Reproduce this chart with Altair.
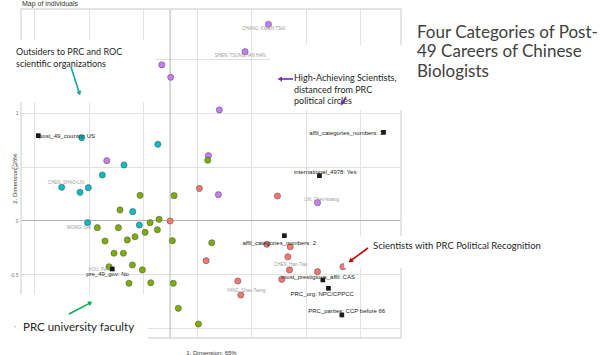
import math
import altair as alt
import pandas as pd

# ---------------- data ----------------
groups = ["Outsiders", "High-Achieving", "University faculty", "Political Recognition"]
group_colors = ["#00BFC4", "#C77CFF", "#7CAE00", "#F8766D"]

purple_x = [-0.076, 0.006, 0.906, 0.691, 0.454, -0.583, 0.353, 0.445, 1.358]
purple_y = [1.447, 1.332, 1.825, 1.570, 1.028, 0.556, 0.603, 0.240, 0.166]

teal_x = [-0.814, -0.113, -0.424, -0.624, -0.998, -0.829, -0.753, -0.344, -0.759, -0.283]
teal_y = [0.770, 0.709, 0.516, 0.423, 0.309, 0.262, 0.305, 0.082, -0.020, -0.042]

green_x = [-0.276, 0.037, 0.347, -0.461, -0.670, -0.476, -0.184, -0.101, -0.117, -0.230,
           -0.323, -0.394, -0.599, 0.021, -0.516, -0.430, -0.347, -0.562, -0.255, -0.378,
           -0.178, 0.030, 0.076, 0.261, 0.384]
green_y = [0.234, 0.231, 0.560, 0.098, -0.067, -0.067, -0.020, 0.011, -0.086, -0.110,
           -0.151, -0.181, -0.191, -0.188, -0.305, -0.305, -0.414, -0.430, -0.460, -0.584,
           -0.579, -0.584, -0.817, -0.963, -0.207]

red_x = [0.270, 0.000, 0.989, 0.891, 1.106, 0.332, 1.085, 1.100, 1.358, 1.592, 0.624, 1.029, 0.652]
red_y = [0.298, -0.005, 0.228, -0.221, -0.244, -0.374, -0.337, -0.460, -0.476, -0.430, -0.563, -0.547, -0.693]

ind_names = ["CHANG, KWEN TSAI", "SHEN, TSUNGHAN HAN", "CHEN, SHAO-LIN", "WONG, SAI",
             "KOU, Pei-lin", "LIN, Chen-kwang", "CHEN, Han-Tiao", "YANG, Shao-Tseng"]
name_x = [0.862, 0.645, -0.959, -0.839, -0.636, 1.396, 1.111, 0.700]
name_y = [1.777, 1.530, 0.344, -0.070, -0.460, 0.191, -0.414, -0.656]

var_labels = ["post_49_country: US", "affil_categories_numbers: 3", "international_4978: Yes",
              "affil_categories_numbers: 2", "most_prestigious_affil: CAS", "PRC_org: NPC/CPPCC",
              "PRC_parties: CCP before 66", "pre_49_gov: No"]
var_x = [-1.214, 1.966, 1.376, 1.053, 1.407, 1.459, 1.582, -0.532]
var_y = [0.789, 0.820, 0.417, -0.141, -0.553, -0.631, -0.879, -0.451]
var_label_x = [-0.949, 1.622, 1.429, 1.005, 1.364, 1.401, 1.627, -0.576]
var_label_y = [0.786, 0.814, 0.451, -0.209, -0.526, -0.684, -0.842, -0.502]

x_ticks = [-1.25, -1.0, -0.75, -0.5, -0.25, 0.0, 0.25, 0.5, 0.75, 1.0, 1.25, 1.5, 1.75, 2.0]
y_ticks = [-1.0, -0.75, -0.5, -0.25, 0.0, 0.25, 0.5, 0.75, 1.0, 1.25, 1.5, 1.75]

# ---------------- tables ----------------
rows = []
order = 0
for g, xs_, ys_ in [("High-Achieving", purple_x, purple_y),
                    ("Outsiders", teal_x, teal_y),
                    ("University faculty", green_x, green_y),
                    ("Political Recognition", red_x, red_y)]:
    for a, b in zip(xs_, ys_):
        rows.append({"x": a, "y": b, "group": g, "order": order})
        order += 1
ind = pd.DataFrame(rows)
names = pd.DataFrame({"x": name_x, "y": name_y, "label": ind_names})
var_pts = pd.DataFrame({"x": var_x, "y": var_y, "label": var_labels})
var_txt = pd.DataFrame({"x": var_label_x, "y": var_label_y, "label": var_labels})

# ---------------- layout ----------------
W, H = 380, 329
OX, OY = 21, 9
XS = alt.Scale(domain=[-1.373, 2.127], nice=False, zero=False)
YS = alt.Scale(domain=[-1.093, 1.967], nice=False, zero=False)
GG = "Liberation Sans"
PPT = "Lato"
ONE = alt.InlineData(values=[{}])
x_label_expr = "abs(datum.value % 0.5) < 0.001 ? toString(datum.value) : ''"
# labels above 1 and below -0.5 are hidden under the slide's text boxes
y_label_expr = ("abs(datum.value % 0.5) < 0.001 && datum.value <= 1 && datum.value >= -0.5"
                " ? toString(datum.value) : ''")

x_enc = alt.X("x:Q", scale=XS, axis=alt.Axis(
    values=x_ticks, labelExpr=x_label_expr, title="1. Dimension: 65%",
    titleY=14, titleBaseline="middle", titleFontSize=6, titleFontWeight="normal",
    titleColor="#333", titleFont=GG, labelPadding=5))
y_enc = alt.Y("y:Q", scale=YS, axis=alt.Axis(
    values=y_ticks, labelExpr=y_label_expr, title="2. Dimension: 26%",
    titleX=-7, titleY=169, titleBaseline="middle", titleFontSize=6, titleFontWeight="normal",
    titleColor="#333", titleFont=GG, labelPadding=3))

zero_v = alt.Chart(alt.InlineData(values=[{"x": 0}])).mark_rule(
    color="#B3B3B3", strokeWidth=1).encode(x=alt.X("x:Q", scale=XS))
zero_h = alt.Chart(alt.InlineData(values=[{"y": 0}])).mark_rule(
    color="#B3B3B3", strokeWidth=1).encode(y=alt.Y("y:Q", scale=YS))

points = alt.Chart(ind).mark_point(filled=True, size=38, strokeWidth=0.6, opacity=1).encode(
    x=x_enc, y=y_enc,
    fill=alt.Fill("group:N", scale=alt.Scale(domain=groups, range=group_colors), legend=None),
    stroke=alt.value("#5a5a5a"),
    order=alt.Order("order:Q"),
)

name_layer = alt.Chart(names).mark_text(fontSize=4.5, font=GG, color="#9a9a9a").encode(
    x=alt.X("x:Q", scale=XS), y=alt.Y("y:Q", scale=YS), text="label:N")

squares = alt.Chart(var_pts).mark_square(size=22, color="#1a1a1a", opacity=1).encode(
    x=alt.X("x:Q", scale=XS), y=alt.Y("y:Q", scale=YS))
var_layer = alt.Chart(var_txt).mark_text(fontSize=6, font=GG, color="#222").encode(
    x=alt.X("x:Q", scale=XS), y=alt.Y("y:Q", scale=YS), text="label:N")

border = alt.Chart(ONE).mark_rect(fillOpacity=0, stroke="#DADADA", strokeWidth=1.4).encode(
    x=alt.value(0), x2=alt.value(W), y=alt.value(0), y2=alt.value(H))


def box(x1, y1, x2, y2):
    return alt.Chart(ONE).mark_rect(color="white", opacity=1).encode(
        x=alt.value(x1 - OX), x2=alt.value(x2 - OX), y=alt.value(y1 - OY), y2=alt.value(y2 - OY))


def txt(lines, x, y, size, color, font=PPT, lh=None, align="left"):
    kw = dict(text=lines, align=align, baseline="middle", fontSize=size, font=font, color=color)
    if lh is not None:
        kw["lineHeight"] = lh
    return alt.Chart(ONE).mark_text(**kw).encode(x=alt.value(x - OX), y=alt.value(y - OY))


def arrow(x1, y1, x2, y2, color, w=1.6, head=26):
    dx, dy = x2 - x1, y2 - y1
    L = math.hypot(dx, dy)
    ux, uy = dx / L, dy / L
    ang = (math.degrees(math.atan2(dx, -dy)) + 360) % 360
    shaft = alt.Chart(ONE).mark_rule(color=color, strokeWidth=w).encode(
        x=alt.value(x1 - OX), x2=alt.value(x2 - 3 * ux - OX),
        y=alt.value(y1 - OY), y2=alt.value(y2 - 3 * uy - OY))
    tip = alt.Chart(ONE).mark_point(shape="triangle", filled=True, size=head, angle=ang,
                                     color=color, opacity=1).encode(
        x=alt.value(x2 - 2.5 * ux - OX), y=alt.value(y2 - 2.5 * uy - OY))
    return shaft + tip


layers = [
    zero_v, zero_h, points, name_layer, squares, var_layer, border,
    box(0, 40, 155, 102), box(270, 45, 412, 110), box(344, 236, 562, 268), box(0, 294, 148, 340),
    txt("Map of individuals", 22, 4, 7, "#333", font=GG),
    txt(["Four Categories of Post-", "49 Careers of Chinese", "Biologists"], 417, 32.5, 17,
        "#404040", lh=19.5),
    txt(["Outsiders to PRC and ROC", "scientific organizations"], 16, 52, 9, "#262626", lh=12),
    txt(["High-Achieving Scientists,", "distanced from PRC", "political circles"], 294, 78, 9,
        "#262626", lh=11.5),
    txt("Scientists with PRC Political Recognition", 373, 246, 9.5, "#262626"),
    txt("PRC university faculty", 23, 328, 11.5, "#262626"),
    txt("\u00b7", 14, 327, 8, "#999"),
    arrow(71, 67, 80, 95, "#1AA39C"),
    arrow(293, 79, 278, 79, "#7030A0"),
    arrow(346, 97, 341, 105, "#7030A0"),
    arrow(368, 248, 349, 262, "#C00000"),
    arrow(69, 314, 92, 302, "#00B050"),
]

chart = alt.layer(*layers).properties(
    width=W, height=H,
    autosize=alt.AutoSizeParams(type="none"),
    padding={"left": OX, "top": OY, "right": 600 - OX - W, "bottom": 355 - OY - H},
).configure(background="white").configure_view(stroke=None).configure_axis(
    grid=True, gridColor="#E2E2E2", gridWidth=1, domain=False, ticks=False,
    labelFont=GG, labelFontSize=5, labelColor="#777",
)

chart.save("out.html", embed_options={"renderer": "svg", "actions": False})
